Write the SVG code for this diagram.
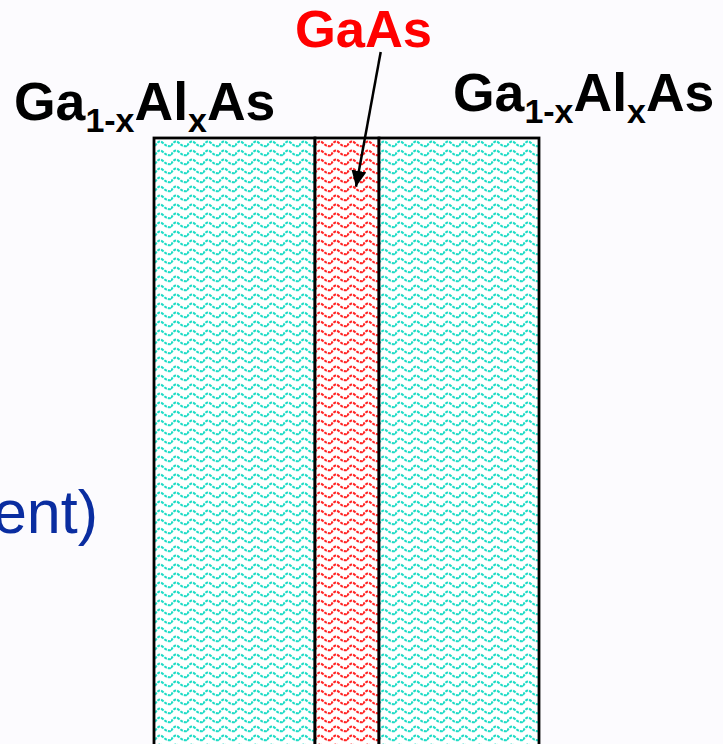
<svg xmlns="http://www.w3.org/2000/svg" width="723" height="744" viewBox="0 0 723 744">
  <style>
    .lbl{font-family:"Liberation Sans",Arial,sans-serif;font-weight:bold;fill:#000}
    .layer{stroke:#000;stroke-width:2.8}
  </style>
  <defs>
    <pattern id="wc" x="155" y="139" width="16" height="9" patternUnits="userSpaceOnUse">
      <rect width="16" height="9" fill="#ffffff"/>
      <path d="M0 7 Q4 0 8 4 T16 7" fill="none" stroke="#1FDCC6" stroke-width="2" stroke-dasharray="3 1"/>
    </pattern>
    <pattern id="wr" x="155" y="139" width="16" height="9" patternUnits="userSpaceOnUse">
      <rect width="16" height="9" fill="#ffffff"/>
      <path d="M0 7 Q4 0 8 4 T16 7" fill="none" stroke="#FF2626" stroke-width="2" stroke-dasharray="3 1"/>
    </pattern>
    <marker id="ah" markerWidth="16" markerHeight="15" refX="16" refY="7.5" orient="auto" markerUnits="userSpaceOnUse" viewBox="0 0 16 15">
      <path d="M0 0 L16 7.5 L0 15 Z" fill="#000"/>
    </marker>
  </defs>
  <rect width="723" height="744" fill="#FCFBFE"/>
  <g id="layer-left">
    <rect class="layer" x="154" y="138" width="161" height="630" fill="url(#wc)"/>
  </g>
  <g id="layer-gaas">
    <rect class="layer" x="315" y="138" width="64" height="630" fill="url(#wr)"/>
  </g>
  <g id="layer-right">
    <rect class="layer" x="379" y="138" width="160" height="630" fill="url(#wc)"/>
  </g>
  <g id="label-left">
    <text class="lbl" x="14" y="120" font-size="53.5">Ga<tspan font-size="34" dy="12">1-x</tspan><tspan dy="-12">Al</tspan><tspan font-size="34" dy="12">x</tspan><tspan dy="-12">As</tspan></text>
  </g>
  <g id="label-right">
    <text class="lbl" x="453" y="111" font-size="53.5">Ga<tspan font-size="34" dy="12">1-x</tspan><tspan dy="-12">Al</tspan><tspan font-size="34" dy="12">x</tspan><tspan dy="-12">As</tspan></text>
  </g>
  <g id="label-gaas">
    <text class="lbl" x="363.5" y="47" font-size="52.5" text-anchor="middle" style="fill:#FF0000">GaAs</text>
  </g>
  <g id="label-ent">
    <text x="98" y="533" font-size="61" text-anchor="end" font-family="'Liberation Sans',Arial,sans-serif" fill="#0A2DA0">ent)</text>
  </g>
  <g id="connectors">
    <line x1="380.7" y1="52" x2="356" y2="186.7" stroke="#000" stroke-width="2.5" marker-end="url(#ah)"/>
  </g>
</svg>
